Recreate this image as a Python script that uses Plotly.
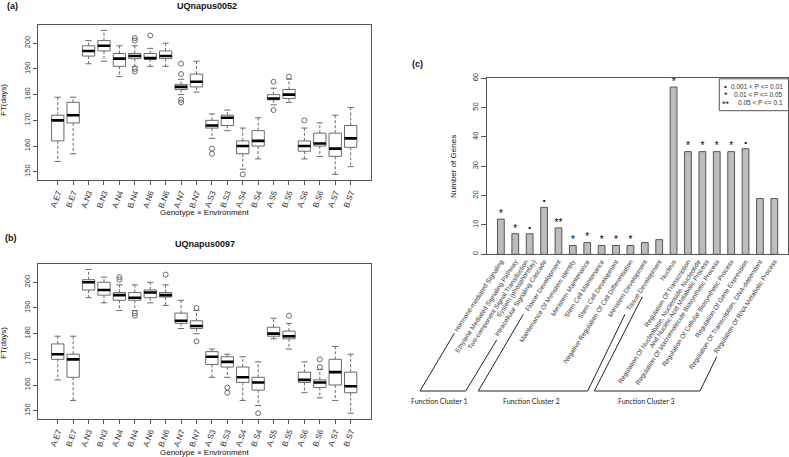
import plotly.graph_objects as go

# ---------------- data ----------------
genotype_env = ["A.E7", "B.E7", "A.N3", "B.N3", "A.N4", "B.N4", "A.N6", "B.N6", "A.N7", "B.N7",
                "A.S3", "B.S3", "A.S4", "B.S4", "A.S5", "B.S5", "A.S6", "B.S6", "A.S7", "B.S7"]

# UQnapus0052 box statistics
a_lower = [154, 157, 192, 193, 187, 191, 191, 191, 180, 181, 163, 166, 151, 155, 176, 177, 155, 156, 149, 152]
a_q1 = [162, 169, 195, 197, 191, 194, 193.8, 194, 182, 183, 167, 168, 157, 160, 178, 178.5, 158, 160, 156, 159.5]
a_median = [170, 172, 197, 199, 194, 195, 194.2, 195, 183, 185, 168, 171, 160, 162, 178.5, 180, 160, 161, 159, 163]
a_q3 = [172, 177, 199, 201, 196, 196, 196, 197, 184, 188, 170, 172, 162, 166, 180, 182, 162, 165, 165, 168]
a_upper = [179, 179, 201, 205, 199, 199, 198, 200, 186, 193, 172.5, 174, 167, 171, 182.5, 186, 167, 169, 172, 175]
a_out_group = [5, 5, 5, 5, 6, 8, 8, 8, 8, 10, 10, 12, 14, 14, 15, 16]
a_out_value = [202, 201, 190, 189, 203, 192, 188, 178, 177, 159, 157, 149, 185, 174, 187, 170]

# UQnapus0097 box statistics
b_lower = [162, 154, 194, 192, 189, 189, 192, 191, 182, 180, 163, 163, 154, 152, 178, 174, 157, 155, 154, 149]
b_q1 = [170, 163, 197, 195, 193, 193, 194, 194.3, 184, 182, 168, 167, 161, 158, 179, 178, 161, 159, 160, 157]
b_median = [172, 170, 200, 197, 195, 194, 196, 195, 185, 183, 171, 169, 163, 161, 180, 179, 162, 161, 165, 159.5]
b_q3 = [176, 172, 201, 200, 196, 196, 197, 196, 188, 185, 173, 171, 167, 163, 182.5, 181, 165, 162, 170, 165]
b_upper = [179, 179, 205, 202, 199, 199, 200, 199, 193, 189, 174, 172, 171, 169, 186, 184, 169, 166, 175, 172]
b_out_group = [4, 4, 5, 5, 7, 9, 9, 11, 11, 13, 15, 17, 17]
b_out_value = [202, 201, 188, 187, 203, 190, 177, 159, 157, 149, 187, 170, 167]

ft_ticks = [150, 160, 170, 180, 190, 200]

# Panel (c)
go_terms = [
    "Hormone-mediated Signaling",
    "Ethylene Mediated Signaling Pathway",
    "Two-component Signal Transduction\nSystem (phosphorelay)",
    "Intracellular Signaling Cascade",
    "Flower Development",
    "Maintenance Of Meristem Identity",
    "Meristem Maintenance",
    "Stem Cell Maintenance",
    "Stem Cell Development",
    "Negative Regulation Of Cell Differentiation",
    "Meristem Development",
    "Tissue Development",
    "Nucleus",
    "Regulation Of Transcription",
    "Regulation Of Nucleobase, Nucleoside, Nucleotide\nAnd Nucleic Acid Metabolic Process",
    "Regulation Of Macromolecule Biosynthetic Process",
    "Regulation Of Cellular Biosynthetic Process",
    "Regulation Of Gene Expression",
    "Regulation Of Transcription, DNA-dependent",
    "Regulation Of RNA Metabolic Process",
]
gene_counts = [12, 7, 7, 16, 9, 3, 4, 3, 3, 3, 4, 5, 57, 35, 35, 35, 35, 36, 19, 19]
significance = ["*", "*", "•", "•", "**", "*", "*", "*", "*", "*", "", "", "*", "*", "*", "*", "*", "•", "", ""]
legend_symbols = ["•", "*", "**"]
legend_labels = ["0.001 < P <= 0.01", "0.01 < P <= 0.05", "0.05 < P <= 0.1"]
gene_ticks = [0, 10, 20, 30, 40, 50, 60]
cluster_names = ["Function Cluster 1", "Function Cluster 2", "Function Cluster 3"]

# ---------------- figure ----------------
W, H = 789, 457
BOX_LINE = "#6a6a6a"
FONT = "Liberation Sans, Arial, sans-serif"

fig = go.Figure()


def px_x(v):
    return v / W


def px_y(v):
    return 1 - v / H


def add_boxes(lower, q1, med, q3, upper, out_g, out_v, xa, ya):
    n = len(q1)
    hw, cw = 0.4, 0.2
    bx, by, wx, wy, cx, cy, mx, my = [], [], [], [], [], [], [], []
    for i in range(n):
        bx += [i - hw, i + hw, i + hw, i - hw, i - hw, None]
        by += [q1[i], q1[i], q3[i], q3[i], q1[i], None]
        wx += [i, i, None, i, i, None]
        wy += [q3[i], upper[i], None, q1[i], lower[i], None]
        cx += [i - cw, i + cw, None, i - cw, i + cw, None]
        cy += [upper[i], upper[i], None, lower[i], lower[i], None]
        mx += [i - hw, i + hw, None]
        my += [med[i], med[i], None]
    common = dict(xaxis=xa, yaxis=ya, showlegend=False, hoverinfo="skip")
    fig.add_trace(go.Scatter(x=wx, y=wy, mode="lines",
                             line=dict(color=BOX_LINE, width=1, dash="3px,2px"), **common))
    fig.add_trace(go.Scatter(x=cx, y=cy, mode="lines",
                             line=dict(color=BOX_LINE, width=1), **common))
    fig.add_trace(go.Scatter(x=bx, y=by, mode="lines", fill="toself", fillcolor="white",
                             line=dict(color=BOX_LINE, width=1), **common))
    fig.add_trace(go.Scatter(x=mx, y=my, mode="lines",
                             line=dict(color="black", width=2.6), **common))
    fig.add_trace(go.Scatter(x=out_g, y=out_v, mode="markers",
                             marker=dict(symbol="circle-open", size=5, color=BOX_LINE,
                                         line=dict(width=1)), **common))


add_boxes(a_lower, a_q1, a_median, a_q3, a_upper, a_out_group, a_out_value, "x", "y")
add_boxes(b_lower, b_q1, b_median, b_q3, b_upper, b_out_group, b_out_value, "x2", "y2")

# bars
idx = list(range(len(gene_counts)))
fig.add_trace(go.Bar(x=idx, y=gene_counts, width=0.47, xaxis="x3", yaxis="y3",
                     marker=dict(color="#bdbdbd", line=dict(color="#555555", width=1)),
                     showlegend=False, hoverinfo="skip"))
sig_offset = {"*": 1.6, "**": 1.6, "•": 2.0, "": 0}
sig_size = {"*": 10, "**": 10, "•": 8, "": 8}
fig.add_trace(go.Scatter(x=idx, y=[c + sig_offset[s] for c, s in zip(gene_counts, significance)],
                         text=significance, mode="text", xaxis="x3", yaxis="y3",
                         textfont=dict(family=FONT, color="black",
                                       size=[sig_size[s] for s in significance]),
                         showlegend=False, hoverinfo="skip", cliponaxis=False))

# category tick labels; two-line labels are split into parallel rotated lines
term_tick_pos, term_tick_text = [], []
LINE_SHIFT = 0.28
for i, term in enumerate(go_terms):
    lines = term.split("\n")
    k = len(lines)
    for j, line in enumerate(lines):
        term_tick_pos.append(i + (j - (k - 1) / 2) * 2 * LINE_SHIFT)
        term_tick_text.append(line)

box_x_common = dict(range=[-1.3, 20.3], tickmode="array", tickvals=list(range(len(genotype_env))),
                    ticktext=genotype_env, tickangle=-70, ticks="outside", ticklen=4,
                    tickcolor="#555", showline=True, mirror=True, linecolor="#555", linewidth=1,
                    showgrid=False, zeroline=False, automargin=False,
                    tickfont=dict(size=8, color="#333", family=FONT))
box_y_common = dict(range=[146.8, 207.2], tickmode="array", tickvals=ft_ticks, tickangle=-90,
                    ticks="outside", ticklen=4, tickcolor="#555", showline=True, mirror=True,
                    linecolor="#555", linewidth=1, showgrid=False, zeroline=False, automargin=False,
                    tickfont=dict(size=7.5, color="#333", family=FONT))

fig.update_layout(
    width=W, height=H, margin=dict(l=0, r=0, t=0, b=0, pad=0, autoexpand=False),
    paper_bgcolor="white", plot_bgcolor="white", showlegend=False,
    font=dict(family=FONT, color="#222"),
    xaxis=dict(domain=[px_x(37.7), px_x(370.7)], anchor="y", **box_x_common),
    yaxis=dict(domain=[px_y(180), px_y(24.7)], anchor="x", **box_y_common),
    xaxis2=dict(domain=[px_x(37.7), px_x(370.7)], anchor="y2", **box_x_common),
    yaxis2=dict(domain=[px_y(418.9), px_y(263.8)], anchor="x2", **box_y_common),
    xaxis3=dict(domain=[px_x(486.5), px_x(788)], anchor="y3", range=[-1.0, 19.95],
                tickmode="array", tickvals=term_tick_pos, ticktext=term_tick_text, tickangle=-57,
                ticks="", showline=True, mirror=True, linecolor="#555", linewidth=1,
                showgrid=False, zeroline=False, automargin=False,
                tickfont=dict(size=6.5, color="#333", family=FONT)),
    yaxis3=dict(domain=[px_y(254.3), px_y(78.3)], anchor="x3", range=[0, 60], tickmode="array",
                tickvals=gene_ticks, tickangle=-90, ticks="outside", ticklen=5, tickcolor="#555",
                showline=True, mirror=True, linecolor="#555", linewidth=1, showgrid=False,
                zeroline=False, automargin=False,
                tickfont=dict(size=7.5, color="#333", family=FONT)),
    bargap=0.5,
)

ann = []


def add_text(text, x, y, size, bold=False, angle=0, family=FONT, color="#111", xanchor="center"):
    ann.append(dict(text=f"<b>{text}</b>" if bold else text, x=px_x(x), y=px_y(y),
                    xref="paper", yref="paper", showarrow=False, textangle=angle,
                    xanchor=xanchor, yanchor="middle",
                    font=dict(size=size, family=family, color=color)))


add_text("(a)", 12, 6, 9, bold=True)
add_text("UQnapus0052", 207, 6, 9, bold=True)
add_text("Genotype × Environment", 204, 212.5, 8)
add_text("FT(days)", 3, 100, 8, angle=-90)
add_text("(b)", 11, 238, 9, bold=True)
add_text("UQnapus0097", 205, 244, 9, bold=True)
add_text("Genotype × Environment", 204, 452, 8)
add_text("FT(days)", 3, 343, 8, angle=-90)
add_text("(c)", 417, 64, 9, bold=True)
add_text("Number of Genes", 453, 167, 8, angle=-90)

cluster_label_x = [440, 531.7, 646.7]
for name, cxp in zip(cluster_names, cluster_label_x):
    add_text(name, cxp, 401, 7, family="Lato, Open Sans, sans-serif", color="#222")

# legend of panel (c)
legend_rows_y = [86, 94, 102.5]
legend_sym_x = [725.5, 725.5, 725.5]
for sym, lab, ry, sx in zip(legend_symbols, legend_labels, legend_rows_y, legend_sym_x):
    add_text(sym, sx, ry + (1.5 if sym != "•" else 0), 8 if sym == "•" else 9)
    add_text(lab, 785, ry, 6.5, xanchor="right", color="#333")

fig.update_layout(annotations=ann)

# cluster brackets and legend frame (paper coordinates)
brackets = [
    [(454.3, 333.3), (420.0, 391.0), (465.7, 391.0), (496.7, 340.0)],
    [(523.3, 314.3), (478.3, 391.0), (587.7, 391.0), (625.0, 314.3)],
    [(642.3, 296.7), (594.3, 391.0), (700.0, 391.0), (716.7, 356.7)],
]
shapes = []
for pts in brackets:
    path = "M " + " L ".join(f"{px_x(x):.5f},{px_y(y):.5f}" for x, y in pts)
    shapes.append(dict(type="path", path=path, xref="paper", yref="paper",
                       line=dict(color="#222", width=1)))
shapes.append(dict(type="rect", xref="paper", yref="paper", x0=px_x(719.3), x1=px_x(788.5),
                   y0=px_y(110.7), y1=px_y(78.8), line=dict(color="#555", width=1),
                   fillcolor="white", layer="above"))
fig.update_layout(shapes=shapes)

fig.write_html("out.html", config={"displayModeBar": False},
               post_script="document.body.style.margin='0px';")
